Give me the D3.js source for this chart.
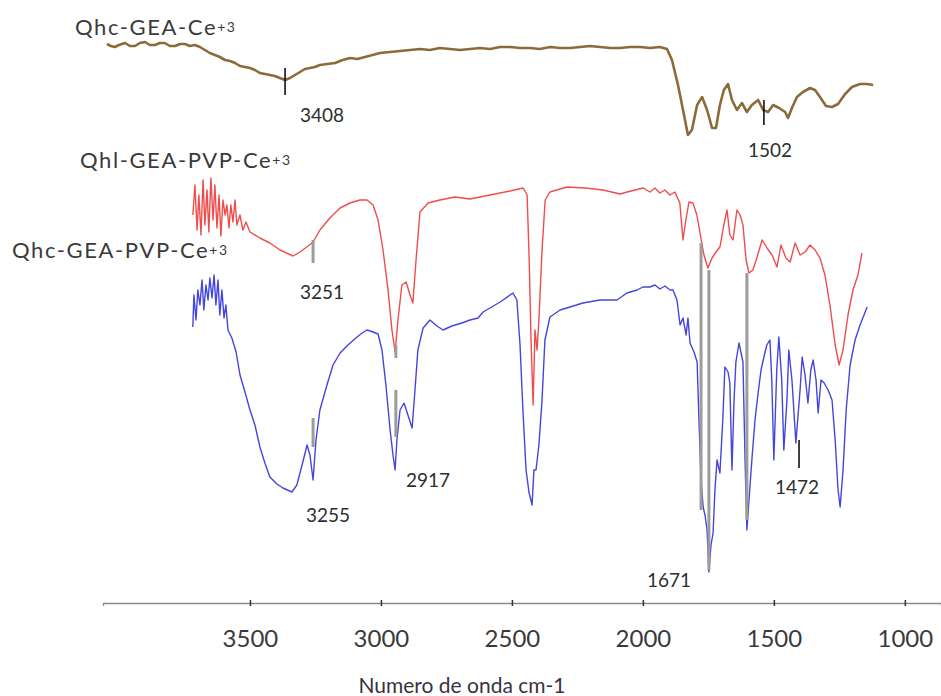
<!DOCTYPE html>
<html><head><meta charset="utf-8">
<script src="https://cdn.jsdelivr.net/npm/d3@7"></script>
<style>body{margin:0;background:#fff}svg{display:block}text{font-family:Lato,"Open Sans",sans-serif}</style>
</head><body><svg id="c" width="941" height="696"></svg>
<script>
// ---- data (wavenumber cm-1, offset transmittance a.u.) ----
const brownWn=[4046,4031,4016,4000,3977,3958,3939,3920,3901,3882,3863,3844,3825,3806,3786,3767,3748,3729,3710,3691,3672,3653,3634,3615,3595,3576,3557,3538,3519,3500,3481,3462,3443,3424,3405,3386,3366,3347,3328,3309,3290,3271,3252,3233,3204,3175,3146,3118,3090,3061,3032,3004,2965,2927,2889,2851,2813,2775,2736,2698,2660,2622,2583,2545,2507,2469,2431,2393,2354,2316,2278,2240,2202,2164,2125,2087,2049,2011,1973,1935,1908,1889,1866,1843,1828,1813,1793,1774,1755,1736,1721,1706,1691,1675,1660,1641,1622,1603,1584,1560,1541,1522,1503,1480,1457,1446,1431,1412,1389,1362,1343,1324,1301,1278,1255,1228,1202,1171,1144,1121];
const brownT=[558,556,555,557,559,556,556,559,560,557,557,559,559,556,556,558,558,556,557,555,552,549,547,545,542,541,539,536,535,534,532,529,528,527,526,524,522,524,527,530,533,534,535,537,538,539,542,544,543,545,547,549,550,551,552,553,552,554,553,552,553,554,553,555,555,554,554,553,555,554,554,555,556,555,554,554,555,555,554,555,553,542,517,487,467,472,497,505,492,474,474,497,512,518,502,492,499,490,497,502,492,490,497,494,490,484,494,505,510,514,512,505,496,495,498,508,515,518,518,517];

const redWn=[3718,3710,3702,3695,3687,3679,3672,3664,3657,3649,3641,3634,3626,3618,3611,3603,3595,3588,3580,3573,3565,3557,3550,3538,3527,3515,3500,3462,3424,3385,3336,3309,3278,3259,3233,3195,3156,3118,3080,3053,3030,3011,2992,2973,2958,2946,2935,2920,2904,2889,2878,2866,2851,2820,2775,2717,2660,2584,2507,2457,2442,2434,2427,2419,2412,2404,2397,2385,2373,2355,2290,2221,2152,2087,2060,2030,1999,1973,1954,1935,1916,1897,1878,1859,1847,1836,1824,1809,1794,1782,1767,1752,1736,1721,1706,1691,1679,1668,1656,1641,1629,1618,1606,1595,1580,1564,1545,1526,1507,1488,1473,1454,1438,1419,1400,1381,1362,1343,1324,1305,1286,1266,1251,1236,1217,1198,1179,1164];
const redT=[387,417,372,407,367,422,377,412,370,424,382,417,374,407,366,402,387,397,374,397,380,402,377,387,372,380,370,364,359,352,346,350,356,360,372,384,394,399,402,402,397,382,352,312,272,250,282,317,320,307,299,342,390,399,402,405,403,407,411,414,407,342,262,197,272,252,282,352,402,410,415,414,412,408,410,412,414,410,414,409,412,407,410,399,362,382,400,399,387,369,347,334,344,350,355,377,392,367,362,392,387,377,342,329,332,345,362,354,347,335,357,344,340,359,347,350,357,352,344,327,297,257,237,252,287,312,327,349];

const blueWn=[3718,3714,3706,3699,3691,3683,3676,3668,3660,3653,3645,3637,3630,3622,3615,3607,3599,3592,3584,3569,3553,3538,3519,3500,3481,3462,3443,3424,3397,3374,3340,3321,3301,3282,3271,3259,3248,3233,3206,3183,3156,3126,3091,3072,3053,3030,3011,2996,2981,2965,2954,2946,2939,2927,2912,2897,2881,2870,2859,2839,2813,2786,2763,2729,2691,2660,2629,2610,2584,2545,2496,2481,2469,2458,2446,2435,2423,2416,2408,2397,2385,2374,2355,2316,2278,2229,2164,2099,2061,2022,2000,1973,1954,1935,1916,1896,1885,1870,1858,1847,1835,1828,1820,1805,1793,1786,1778,1770,1763,1755,1748,1740,1732,1725,1717,1706,1695,1687,1675,1668,1660,1652,1645,1633,1626,1618,1610,1603,1595,1584,1572,1561,1549,1538,1527,1515,1508,1500,1489,1481,1470,1462,1450,1443,1431,1416,1400,1392,1381,1370,1359,1350,1339,1331,1320,1308,1293,1278,1266,1255,1247,1236,1224,1209,1190,1171,1144];
const blueT=[275,307,282,312,297,322,292,317,302,324,304,327,297,322,287,312,284,297,272,264,250,227,210,192,177,155,139,125,118,114,110,117,137,157,147,122,162,192,217,237,249,257,265,269,272,270,268,252,217,172,147,132,162,192,199,187,174,212,252,274,282,276,272,276,279,282,284,290,294,300,309,302,257,192,132,110,97,132,132,157,202,262,285,292,295,299,302,302,309,312,315,315,317,313,316,312,312,302,277,284,267,284,259,250,240,182,122,95,87,72,30,57,69,112,142,129,182,235,230,219,132,202,240,259,250,240,142,72,102,142,182,207,232,245,257,262,222,142,232,265,222,152,202,252,222,159,212,245,227,199,232,242,222,189,222,219,212,202,162,112,95,132,192,237,262,277,295];

const tickValues=[3500,3000,2500,2000,1500,1000];
const seriesNames=["Qhc-GEA-Ce","Qhl-GEA-PVP-Ce","Qhc-GEA-PVP-Ce"];
const seriesCharge="+3";
const peakLabels=["3408","1502","3251","3255","2917","1671","1472"];
const peakLabelWn=[3225,1515,3225,3202,2820,1900,1412];
const peakLabelT=[487,452,310,87,122,22,115];
// peak marker sticks: wavenumber, T from, T to, kind
const markerWn=[3366,1538,3259,3259,2943,2943,1778,1748,1603,1404];
const markerT1=[534,502,362,184,257,212,359,332,329,162];
const markerT2=[507,477,339,155,244,165,92,32,82,134];
const markerKind=["k","k","g","g","g","g","g","g","g","k"];

// ---- chart ----
const svg=d3.select("#c");
const x=d3.scaleLinear().domain([4061,862]).range([103,941]);
const y=d3.scaleLinear().domain([0,600]).range([602,2]);
const axisY=603;

const line=d3.line().x(d=>x(d[0])).y(d=>y(d[1]));
const series=[
  {wn:brownWn,t:brownT,color:"#8c6a3c",w:2.6},
  {wn:redWn,t:redT,color:"#f04c4c",w:1.4},
  {wn:blueWn,t:blueT,color:"#4545de",w:1.4}
];
series.forEach(s=>{
  svg.append("path").datum(s.wn.map((w,i)=>[w,s.t[i]]))
    .attr("d",line).attr("fill","none").attr("stroke",s.color)
    .attr("stroke-width",s.w).attr("stroke-linejoin","round");
});

// markers
svg.append("g").selectAll("line").data(markerWn.map((w,i)=>i)).join("line")
  .attr("x1",i=>x(markerWn[i])).attr("x2",i=>x(markerWn[i]))
  .attr("y1",i=>y(markerT1[i])).attr("y2",i=>y(markerT2[i]))
  .attr("stroke",i=>markerKind[i]==="k"?"#111":"#9c9c9c")
  .attr("stroke-width",i=>markerKind[i]==="k"?1.6:3);

// axis
const ax=svg.append("g").attr("transform",`translate(0,${axisY})`)
  .call(d3.axisBottom(x).tickValues(tickValues).tickFormat(d3.format("d")).tickSizeOuter(0).tickSize(3).tickPadding(24));
ax.select(".domain").attr("stroke","#8a8a8a").attr("stroke-width",1.3);
ax.selectAll(".tick line").attr("y1",-3).attr("y2",3).attr("stroke","#333").attr("stroke-width",1.5);
ax.selectAll(".tick text").attr("font-size",24).attr("fill","#3a3a3a").attr("font-family","Lato, sans-serif");

svg.append("text").attr("x",462).attr("y",693).attr("text-anchor","middle")
  .attr("font-size",21).attr("fill","#3b3242").text("Numero de onda cm-1");

// peak labels
svg.append("g").selectAll("text").data(peakLabels).join("text")
  .attr("x",(d,i)=>x(peakLabelWn[i])).attr("y",(d,i)=>y(peakLabelT[i]))
  .attr("dy","0.36em").attr("text-anchor","middle").attr("font-size",19)
  .attr("fill","#2e2e2e").text(d=>d);

// series labels
const labelPos=[[75,35],[80,168],[12,258]];
seriesNames.forEach((n,i)=>{
  const t=svg.append("text").attr("x",labelPos[i][0]).attr("y",labelPos[i][1])
    .attr("font-size",22).attr("letter-spacing",1.6).attr("fill","#3a3a3a");
  t.append("tspan").text(n);
  t.append("tspan").attr("font-size",14).attr("dy",-3).text(seriesCharge);
});
</script></body></html>
